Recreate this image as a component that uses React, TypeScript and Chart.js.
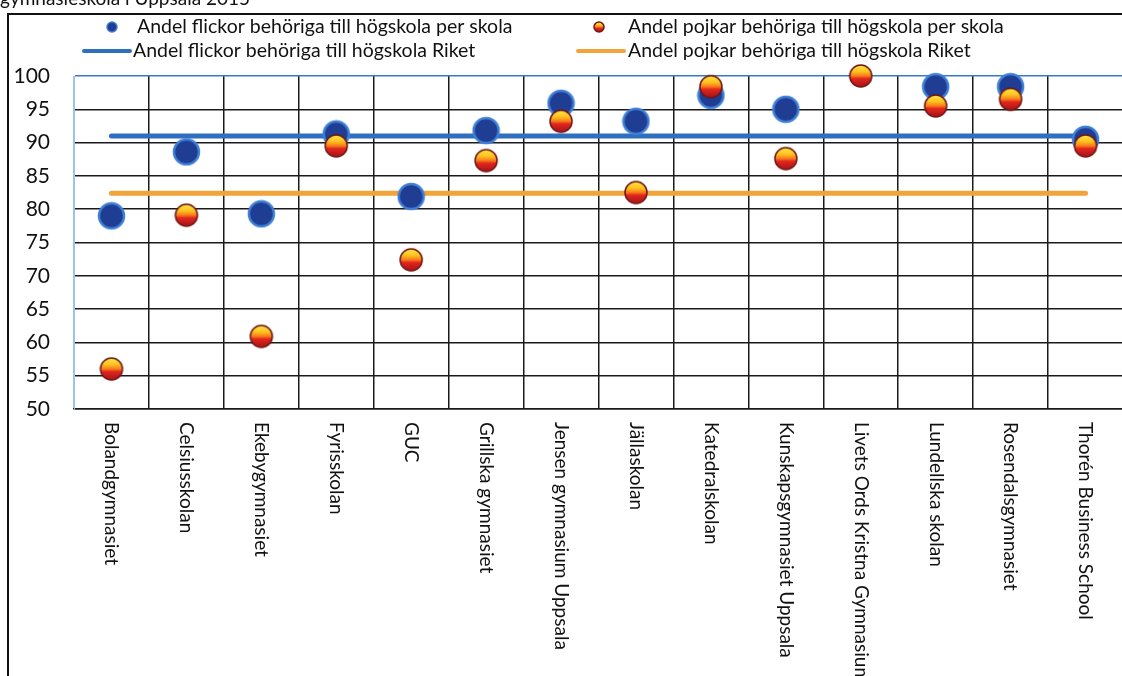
import React, { useEffect, useRef } from "react";
import { Chart, registerables } from "chart.js";

Chart.register(...registerables);

// ---------- data ----------
const categories = [
  "Bolandgymnasiet",
  "Celsiusskolan",
  "Ekebygymnasiet",
  "Fyrisskolan",
  "GUC",
  "Grillska gymnasiet",
  "Jensen gymnasium Uppsala",
  "Jällaskolan",
  "Katedralskolan",
  "Kunskapsgymnasiet Uppsala",
  "Livets Ords Kristna Gymnasium",
  "Lundellska skolan",
  "Rosendalsgymnasiet",
  "Thorén Business School",
];

const girlsPerSchool = [79.0, 88.6, 79.3, 91.3, 81.9, 91.8, 95.9, 93.2, 97.1, 95.0, null, 98.4, 98.4, 90.5];
const boysPerSchool = [56.0, 79.1, 60.9, 89.5, 72.4, 87.3, 93.2, 82.5, 98.4, 87.6, 100, 95.5, 96.5, 89.5];

const girlsNational = 91.0;
const boysNational = 82.4;

const yTicks = [50, 55, 60, 65, 70, 75, 80, 85, 90, 95, 100];

const titleText = "gymnasieskola i Uppsala 2015";
const legendLabels = [
  "Andel flickor behöriga till högskola per skola",
  "Andel pojkar behöriga till högskola per skola",
  "Andel flickor behöriga till högskola Riket",
  "Andel pojkar behöriga till högskola Riket",
];

// ---------- styling ----------
const FONT = "Lato, 'Noto Sans', sans-serif";
const GRID = "#1a1a1a";
const BLUE_LINE = "#2f6fc0";
const ORANGE_LINE = "#f2a33a";
const LIGHT_BLUE = "#9cc3ea";
const W = 1124;
const H = 676;

function makeGirlMarker(r: number): HTMLCanvasElement {
  const c = document.createElement("canvas");
  const s = Math.ceil(r * 2 + 4);
  c.width = s;
  c.height = s;
  const g = c.getContext("2d")!;
  g.beginPath();
  g.arc(s / 2, s / 2, r, 0, Math.PI * 2);
  g.fillStyle = "#1f3d92";
  g.fill();
  g.lineWidth = Math.max(1.5, r * 0.2);
  g.strokeStyle = "#3f7fd6";
  g.stroke();
  return c;
}

function makeBoyMarker(r: number): HTMLCanvasElement {
  const c = document.createElement("canvas");
  const s = Math.ceil(r * 2 + 4);
  c.width = s;
  c.height = s;
  const g = c.getContext("2d")!;
  const grad = g.createLinearGradient(0, s / 2 - r, 0, s / 2 + r);
  grad.addColorStop(0, "#ffe84a");
  grad.addColorStop(0.3, "#ffc21e");
  grad.addColorStop(0.5, "#f7791c");
  grad.addColorStop(0.62, "#e3261d");
  grad.addColorStop(1, "#a3131b");
  g.beginPath();
  g.arc(s / 2, s / 2, r, 0, Math.PI * 2);
  g.fillStyle = grad;
  g.fill();
  g.lineWidth = 1.5;
  g.strokeStyle = "#6e1612";
  g.stroke();
  return c;
}

export default function App() {
  const canvasRef = useRef<HTMLCanvasElement | null>(null);

  useEffect(() => {
    const canvas = canvasRef.current;
    if (!canvas) return;

    const girlMarker = makeGirlMarker(12.5);
    const boyMarker = makeBoyMarker(11);
    const girlLegend = makeGirlMarker(5);
    const boyLegend = makeBoyMarker(5);

    const decor = {
      id: "decor",
      beforeDraw(chart: any) {
        const ctx = chart.ctx;
        ctx.save();
        ctx.fillStyle = "#ffffff";
        ctx.fillRect(0, 0, chart.width, chart.height);
        ctx.restore();
      },
      afterDraw(chart: any) {
        const ctx = chart.ctx;
        ctx.save();
        // outer frame
        ctx.strokeStyle = "#111";
        ctx.lineWidth = 2;
        ctx.strokeRect(8, 14, 3000, 3000);

        // cut-off title
        ctx.fillStyle = "#111";
        ctx.font = `19px ${FONT}`;
        ctx.textAlign = "left";
        ctx.textBaseline = "alphabetic";
        ctx.fillText(titleText, 0, 5);

        // legend
        ctx.font = `19.5px ${FONT}`;
        ctx.textBaseline = "middle";
        const row1 = 27;
        const row2 = 51;
        ctx.drawImage(girlLegend, 112 - girlLegend.width / 2, row1 - girlLegend.height / 2);
        ctx.fillText(legendLabels[0], 137, row1);
        ctx.drawImage(boyLegend, 599 - boyLegend.width / 2, row1 - boyLegend.height / 2);
        ctx.fillText(legendLabels[1], 628, row1);

        ctx.lineWidth = 4;
        ctx.lineCap = "round";
        ctx.strokeStyle = BLUE_LINE;
        ctx.beginPath();
        ctx.moveTo(84, row2);
        ctx.lineTo(130, row2);
        ctx.stroke();
        ctx.fillText(legendLabels[2], 133, row2);
        ctx.strokeStyle = ORANGE_LINE;
        ctx.beginPath();
        ctx.moveTo(578, row2);
        ctx.lineTo(624, row2);
        ctx.stroke();
        ctx.fillText(legendLabels[3], 628, row2);

        // rotated category labels (reading top to bottom)
        const xs = chart.scales.x;
        ctx.font = `19px ${FONT}`;
        ctx.textAlign = "left";
        ctx.textBaseline = "middle";
        categories.forEach((lab, i) => {
          const x = xs.getPixelForValue(i);
          ctx.save();
          ctx.translate(x, xs.top + 13);
          ctx.rotate(Math.PI / 2);
          ctx.fillText(lab, 0, 0);
          ctx.restore();
        });
        ctx.restore();
      },
    };

    const chart = new Chart(canvas, {
      type: "line",
      data: {
        labels: categories,
        datasets: [
          {
            label: legendLabels[1],
            data: boysPerSchool,
            showLine: false,
            pointStyle: boyMarker as any,
            pointRadius: 11,
            clip: false,
            order: 0,
          },
          {
            label: legendLabels[0],
            data: girlsPerSchool,
            showLine: false,
            pointStyle: girlMarker as any,
            pointRadius: 12,
            clip: false,
            order: 1,
          },
          {
            label: legendLabels[2],
            data: categories.map(() => girlsNational),
            borderColor: BLUE_LINE,
            borderWidth: 5,
            pointRadius: 0,
            borderCapStyle: "round",
            order: 2,
          },
          {
            label: legendLabels[3],
            data: categories.map(() => boysNational),
            borderColor: ORANGE_LINE,
            borderWidth: 5,
            pointRadius: 0,
            borderCapStyle: "round",
            order: 3,
          },
        ],
      },
      options: {
        animation: false,
        responsive: false,
        maintainAspectRatio: false,
        devicePixelRatio: 1,
        layout: { autoPadding: false, padding: { top: 76, right: 1, left: 0, bottom: 0 } },
        plugins: {
          legend: { display: false },
          tooltip: { enabled: false },
          title: { display: false },
        },
        scales: {
          x: {
            type: "category",
            offset: true,
            grid: {
              offset: true,
              drawTicks: false,
              lineWidth: 1.5,
              color: (c: any) => (c.index === 0 ? LIGHT_BLUE : GRID),
            },
            border: { color: GRID, width: 1.5 },
            ticks: { display: false },
            afterFit(s: any) {
              s.height = H - 409;
            },
          },
          y: {
            min: 50,
            max: 100,
            afterBuildTicks(s: any) {
              s.ticks = yTicks.map((v) => ({ value: v }));
            },
            ticks: {
              padding: 24,
              color: "#111",
              font: { size: 21, family: FONT },
            },
            grid: {
              drawTicks: false,
              lineWidth: 1.5,
              color: (c: any) => (c.tick && c.tick.value === 100 ? "#3a78cc" : GRID),
            },
            border: { color: LIGHT_BLUE, width: 1 },
            afterFit(s: any) {
              s.width = 74;
            },
          },
        },
      },
      plugins: [decor],
    });

    return () => chart.destroy();
  }, []);

  return (
    <div
      style={{
        position: "fixed",
        left: 0,
        top: 0,
        width: 1122,
        height: 676,
        overflow: "hidden",
        background: "#fff",
      }}
    >
      <canvas
        ref={canvasRef}
        width={W}
        height={H}
        style={{ position: "absolute", left: 0, top: 0, width: W, height: H }}
      />
    </div>
  );
}
